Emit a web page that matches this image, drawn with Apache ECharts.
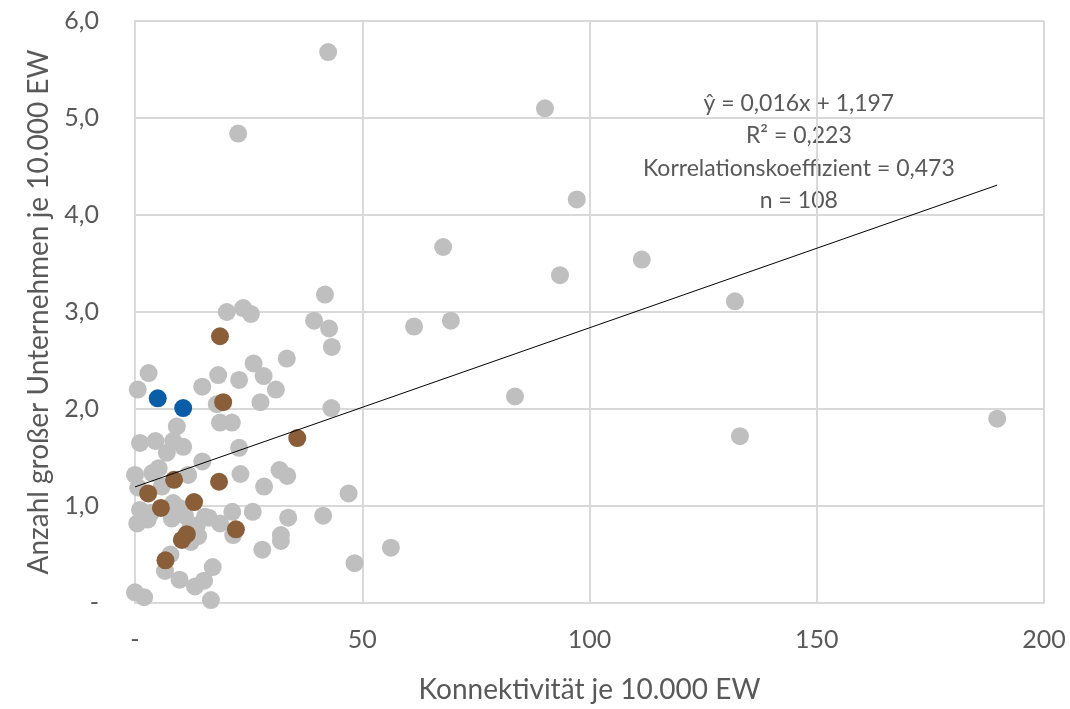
<!DOCTYPE html>
<html lang="de">
<head>
<meta charset="utf-8">
<title>Konnektivität und große Unternehmen</title>
<script src="https://cdn.jsdelivr.net/npm/echarts@6/dist/echarts.min.js"></script>
<style>
  html, body { margin: 0; padding: 0; background: #ffffff; }
  #chart { width: 1070px; height: 709px; }
</style>
</head>
<body>
<div id="chart"></div>
<script>
// Regionen: Konnektivität je 10.000 EW (x) und große Unternehmen je 10.000 EW (y)
const greyX = [42.5, 22.7, 90.2, 97.2, 67.8, 93.5, 111.5, 132.0, 133.1, 189.7,
  83.6, 61.4, 69.5, 41.8, 39.4, 42.7, 43.3, 43.2, 47.0, 41.4,
  48.3, 56.3, 33.4, 20.2, 23.8, 25.5, 26.1, 28.3, 31.0, 18.3,
  22.9, 14.8, 3.0, 0.6, 18.0, 27.6, 18.7, 21.3, 9.2, 1.1,
  4.5, 8.4, 10.6, 7.0, 22.9, 14.8, 5.2, 3.8, 0.0, 11.7,
  23.2, 31.8, 33.5, 28.4, 0.7, 5.9, 1.1, 2.8, 0.5, 8.4,
  8.1, 11.0, 15.4, 13.6, 13.9, 12.3, 21.4, 18.7, 25.9, 21.6,
  33.7, 32.1, 32.1, 28.0, 7.8, 6.6, 9.8, 17.1, 15.2, 13.2,
  0.0, 2.0, 16.7, 3.5, 9.8, 12.2, 16.2];
const greyY = [5.68, 4.84, 5.10, 4.16, 3.67, 3.38, 3.54, 3.11, 1.72, 1.90,
  2.13, 2.85, 2.91, 3.18, 2.91, 2.83, 2.64, 2.01, 1.13, 0.90,
  0.41, 0.57, 2.52, 3.00, 3.04, 2.98, 2.47, 2.34, 2.20, 2.35,
  2.30, 2.23, 2.37, 2.20, 2.05, 2.07, 1.86, 1.86, 1.82, 1.65,
  1.67, 1.67, 1.61, 1.55, 1.60, 1.46, 1.39, 1.34, 1.32, 1.32,
  1.33, 1.37, 1.31, 1.20, 1.19, 1.20, 0.96, 0.86, 0.82, 1.03,
  0.87, 0.90, 0.89, 0.80, 0.69, 0.63, 0.94, 0.82, 0.94, 0.70,
  0.88, 0.70, 0.64, 0.55, 0.50, 0.33, 0.24, 0.37, 0.23, 0.17,
  0.11, 0.06, 0.03, 0.93, 0.98, 0.78, 0.88];

const brownX = [18.7, 19.4, 35.7, 8.6, 18.5, 2.9, 13.0, 5.7, 22.2, 11.4, 10.3, 6.7];
const brownY = [2.75, 2.07, 1.70, 1.27, 1.25, 1.13, 1.04, 0.98, 0.76, 0.71, 0.65, 0.44];

const blueX = [5.0, 10.6];
const blueY = [2.11, 2.01];

// Lineare Regression (Trendlinie) und Kennzahlen
const trendSlope = 0.0164;
const trendIntercept = 1.197;
const rSquared = 0.223;
const correlation = 0.473;
const sampleSize = 108;

const xTicks = [0, 50, 100, 150, 200];
const yTicks = [0, 1, 2, 3, 4, 5, 6];

const pairs = (xs, ys) => xs.map((x, i) => [x, ys[i]]);
const allX = greyX.concat(brownX, blueX);
const xMin = Math.min(...allX);
const xMax = Math.max(...allX);
const trendData = [xMin, xMax].map(x => [x, trendIntercept + trendSlope * x]);

const de = (v, d) => v.toFixed(d).replace('.', ',');

const FONT = 'Lato, "Liberation Sans", sans-serif';
const TEXT = '#595959';
const GRID = '#D9D9D9';

const chart = echarts.init(document.getElementById('chart'), null, { renderer: 'canvas' });

chart.setOption({
  animation: false,
  backgroundColor: '#ffffff',
  grid: { left: 135, right: 26, top: 21, bottom: 106, containLabel: false },
  xAxis: {
    type: 'value',
    min: xTicks[0],
    max: xTicks[xTicks.length - 1],
    interval: xTicks[1] - xTicks[0],
    name: 'Konnektivität je 10.000 EW',
    nameLocation: 'middle',
    nameGap: 73,
    nameTextStyle: { color: TEXT, fontFamily: FONT, fontSize: 28 },
    axisLine: { show: true, lineStyle: { color: GRID, width: 2 } },
    axisTick: { show: false },
    splitLine: { show: true, lineStyle: { color: GRID, width: 2 } },
    axisLabel: {
      color: TEXT, fontFamily: FONT, fontSize: 25, margin: 24,
      formatter: v => (v === 0 ? '-' : String(v))
    }
  },
  yAxis: {
    type: 'value',
    min: yTicks[0],
    max: yTicks[yTicks.length - 1],
    interval: yTicks[1] - yTicks[0],
    name: 'Anzahl großer Unternehmen je 10.000 EW',
    nameLocation: 'middle',
    nameGap: 82,
    nameTextStyle: { color: TEXT, fontFamily: FONT, fontSize: 28 },
    axisLine: { show: true, lineStyle: { color: GRID, width: 2 } },
    axisTick: { show: false },
    splitLine: { show: true, lineStyle: { color: GRID, width: 2 } },
    axisLabel: {
      color: TEXT, fontFamily: FONT, fontSize: 25, margin: 36,
      formatter: v => (v === 0 ? '-' : de(v, 1))
    }
  },
  series: [
    {
      name: 'Regionen', type: 'scatter', symbol: 'circle', symbolSize: 18,
      itemStyle: { color: '#BFBFBF', opacity: 1 }, silent: true, z: 2,
      data: pairs(greyX, greyY)
    },
    {
      name: 'Regionen (braun)', type: 'scatter', symbol: 'circle', symbolSize: 18,
      itemStyle: { color: '#8A5E38', opacity: 1 }, silent: true, z: 3,
      data: pairs(brownX, brownY)
    },
    {
      name: 'Regionen (blau)', type: 'scatter', symbol: 'circle', symbolSize: 18,
      itemStyle: { color: '#0A5EA8', opacity: 1 }, silent: true, z: 4,
      data: pairs(blueX, blueY)
    },
    {
      name: 'Trend', type: 'line', showSymbol: false, symbol: 'none', silent: true, z: 5,
      lineStyle: { color: '#000000', width: 1 },
      data: trendData
    }
  ],
  graphic: [
    {
      type: 'group', left: 813 - 170, top: 92,
      children: [
        'ŷ = ' + de(trendSlope, 3) + 'x + ' + de(trendIntercept, 3),
        'R² = ' + de(rSquared, 3),
        'Korrelationskoeffizient = ' + de(correlation, 3),
        'n = ' + sampleSize
      ].map((t, i) => ({
        type: 'text', x: 170, y: i * 32.5,
        style: { text: t, fill: TEXT, font: '23px ' + FONT, textAlign: 'center', textVerticalAlign: 'top' }
      }))
    }
  ]
});
</script>
</body>
</html>
